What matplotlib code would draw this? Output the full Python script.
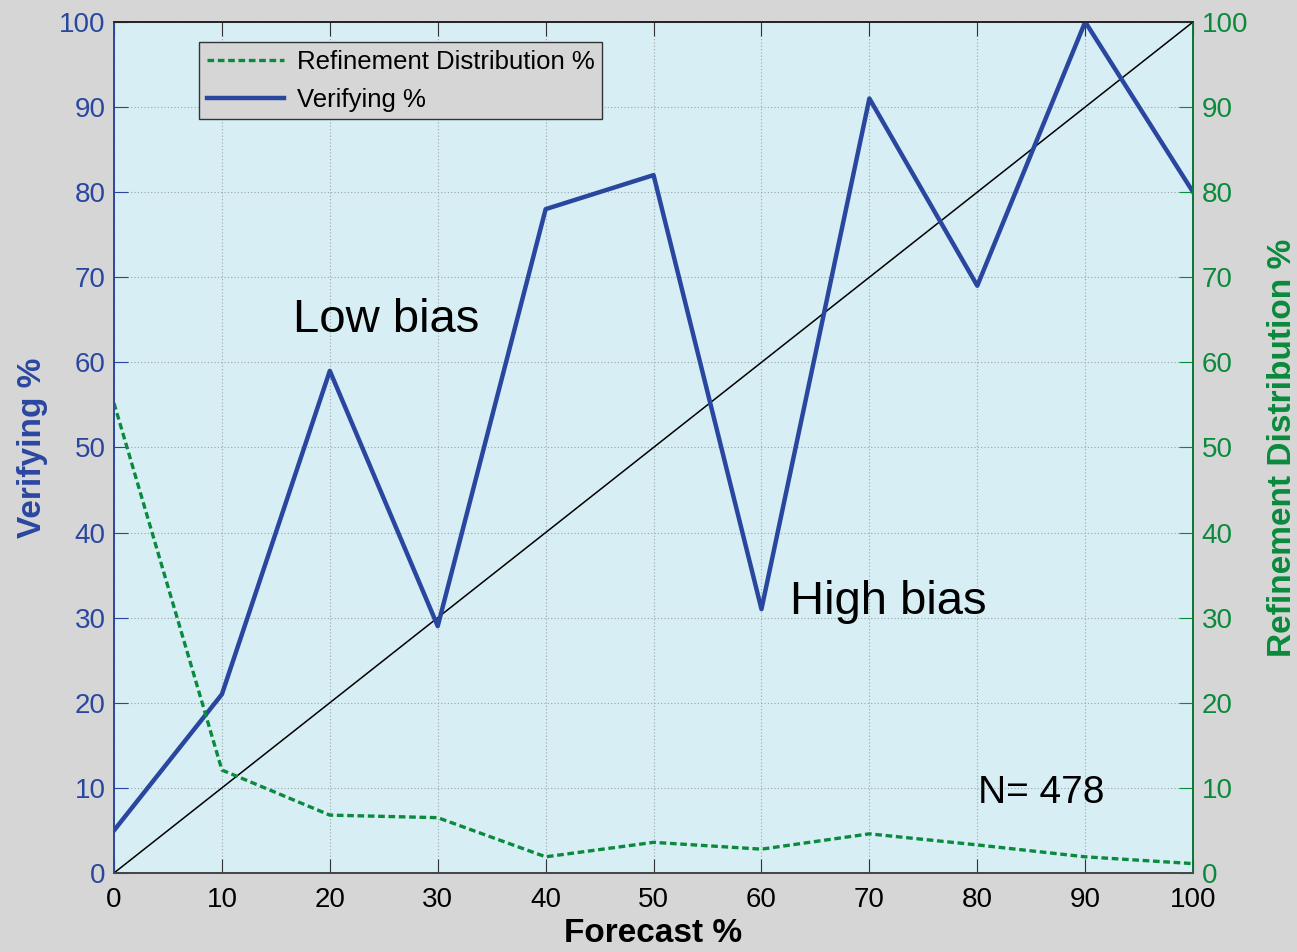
import numpy as np
import matplotlib
matplotlib.use('Agg')
import matplotlib.pyplot as plt

plt.rcParams['font.family'] = ['Liberation Sans', 'DejaVu Sans']

forecast = [0, 10, 20, 30, 40, 50, 60, 70, 80, 90, 100]
verifying = [5, 21, 59, 29, 78, 82, 31, 91, 69, 100, 80]
refinement = [55.2, 12.1, 6.8, 6.5, 1.9, 3.6, 2.8, 4.6, 3.3, 1.9, 1.1]
ticks = list(range(0, 101, 10))
n_total = 478

blue = '#2a47a0'
green = '#0a8a3c'
bg = '#d6d6d6'
face = '#d7eef4'

fig = plt.figure(figsize=(12.97, 9.52), dpi=100, facecolor=bg)
ax = fig.add_axes([0.0879, 0.083, 0.832, 0.894])
ax.set_facecolor(face)
ax2 = ax.twinx()

ln_v, = ax.plot(forecast, verifying, color=blue, lw=3.2, label='Verifying %', zorder=3)
ax.plot([0, 100], [0, 100], color='black', lw=1.1, zorder=2)
ln_r, = ax2.plot(forecast, refinement, color=green, lw=2.4, ls=(0, (2.0, 1.1)),
                 label='Refinement Distribution %')

for a in (ax, ax2):
    a.set_xlim(0, 100)
    a.set_ylim(0, 100)
    a.set_xticks(ticks)
    a.set_yticks(ticks)

ax.grid(True, color='#9aa6a8', ls=(0, (1, 2)), lw=0.8)
ax.tick_params(axis='x', direction='in', length=10, top=True, labelsize=20, pad=10, colors='#333333', labelcolor='black')
ax.tick_params(axis='y', direction='in', length=10, labelsize=20, colors=blue, pad=6)
ax2.tick_params(axis='y', direction='in', length=10, labelsize=20, colors=green, pad=6)

ax.spines['left'].set_color(blue)
ax2.spines['left'].set_color(blue)
ax2.spines['right'].set_color(green)
for a in (ax, ax2):
    a.spines['top'].set_color('#222222')
    a.spines['bottom'].set_color('#444444')
    for s in a.spines.values():
        s.set_linewidth(1.2)

ax.set_xlabel('Forecast %', fontsize=24, fontweight='bold', labelpad=4)
ax.set_ylabel('Verifying %', fontsize=24, fontweight='bold', color=blue, labelpad=8)
ax2.set_ylabel('Refinement Distribution %', fontsize=24, fontweight='bold', color=green, labelpad=14)

ax.text(16.6, 63.6, 'Low bias', fontsize=34, va='baseline')
ax.text(62.6, 30.4, 'High bias', fontsize=34, va='baseline')
ax.text(80.1, 8.2, 'N= %d' % n_total, fontsize=28, va='baseline')

leg = ax2.legend(handles=[ln_r, ln_v], loc='upper left', bbox_to_anchor=(0.0788, 0.9765),
                 borderaxespad=0, fontsize=18.5, frameon=True, fancybox=False, facecolor=bg,
                 edgecolor='#333333', framealpha=1, handlelength=3.0, handletextpad=0.5,
                 borderpad=0.3, labelspacing=0.55)
leg.get_frame().set_linewidth(1.0)

fig.savefig('out.png', dpi=100, facecolor=bg)
